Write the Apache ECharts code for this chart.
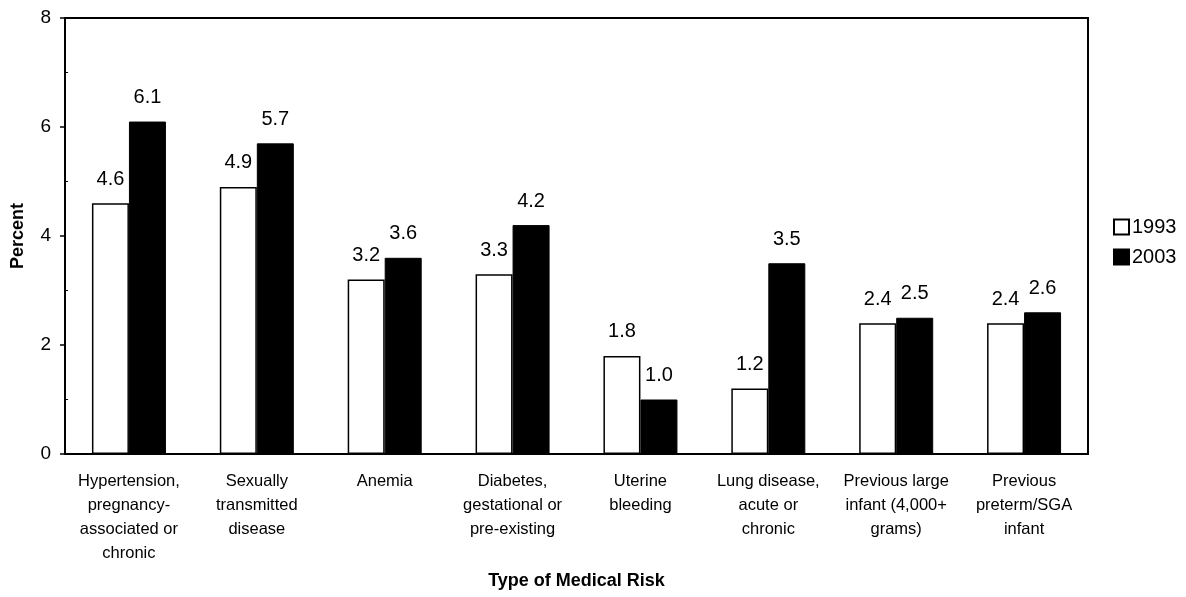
<!DOCTYPE html>
<html>
<head>
<meta charset="utf-8">
<script src="https://cdn.jsdelivr.net/npm/echarts@6/dist/echarts.min.js"></script>
<style>
html,body{margin:0;padding:0;background:#fff;}
#chart{width:1186px;height:597px;}
</style>
</head>
<body>
<div id="chart"></div>
<script>
var categories = [
  "Hypertension,\npregnancy-\nassociated or\nchronic",
  "Sexually\ntransmitted\ndisease",
  "Anemia",
  "Diabetes,\ngestational or\npre-existing",
  "Uterine\nbleeding",
  "Lung disease,\nacute or\nchronic",
  "Previous large\ninfant (4,000+\ngrams)",
  "Previous\npreterm/SGA\ninfant"
];
var values1993 = [4.6, 4.9, 3.2, 3.3, 1.8, 1.2, 2.4, 2.4];
var values2003 = [6.1, 5.7, 3.6, 4.2, 1.0, 3.5, 2.5, 2.6];
var yTicks = [0, 2, 4, 6, 8];

var FONT = "'Liberation Sans', Arial, sans-serif";
var chart = echarts.init(document.getElementById('chart'));
var labelStyle = {
  show: true, position: 'top', distance: 14,
  color: '#000', fontFamily: FONT, fontSize: 20,
  formatter: function (p) { return p.value.toFixed(1); }
};
chart.setOption({
  animation: false,
  backgroundColor: '#fff',
  textStyle: { fontFamily: FONT, color: '#000' },
  grid: { left: 65, right: 98, top: 18, bottom: 143, show: true, borderColor: '#000', borderWidth: 2, backgroundColor: 'transparent' },
  legend: {
    orient: 'vertical', left: 1108, top: 212, itemGap: 10,
    itemWidth: 15, itemHeight: 15, icon: 'rect',
    textStyle: { fontFamily: FONT, fontSize: 20, color: '#000', padding: [0, 0, 0, -2] },
    data: ['1993', '2003']
  },
  xAxis: {
    type: 'category', data: categories,
    name: 'Type of Medical Risk', nameLocation: 'middle', nameGap: 118,
    nameTextStyle: { fontFamily: FONT, fontSize: 18, fontWeight: 'bold', color: '#000' },
    axisLine: { lineStyle: { color: '#000', width: 2 } },
    axisTick: { show: false },
    axisLabel: { interval: 0, color: '#000', fontFamily: FONT, fontSize: 16.5, lineHeight: 24, margin: 15 },
    splitLine: { show: false }
  },
  yAxis: [{
    type: 'value', min: 0, max: 8, interval: 2, position: 'left',
    name: 'Percent', nameLocation: 'middle', nameGap: 38,
    nameTextStyle: { fontFamily: FONT, fontSize: 18, fontWeight: 'bold', color: '#000' },
    axisLine: { show: true, lineStyle: { color: '#000', width: 2 } },
    axisTick: { show: true, length: 5, lineStyle: { color: '#000', width: 1.5 } },
    axisLabel: { color: '#000', fontFamily: FONT, fontSize: 19, margin: 14,
      formatter: function (v) { return yTicks.indexOf(v) >= 0 ? String(v) : ''; } },
    splitLine: { show: false }
  }, {
    type: 'value', min: 0, max: 8, interval: 2, position: 'left',
    axisLine: { show: false },
    axisTick: { show: false, inside: true },
    minorTick: { show: true, splitNumber: 2, length: 3, lineStyle: { color: '#000', width: 1 } },
    axisLabel: { show: false },
    splitLine: { show: false }
  }],
  series: [{
    name: '1993', type: 'bar', data: values1993, barWidth: 37, barGap: '0%',
    itemStyle: { color: '#fff', borderColor: '#000', borderWidth: 1.5 },
    label: labelStyle
  }, {
    name: '2003', type: 'bar', data: values2003, barWidth: 37, barGap: '0%',
    itemStyle: { color: '#000', borderColor: '#000', borderWidth: 1 },
    label: labelStyle
  }]
});
</script>
</body>
</html>
